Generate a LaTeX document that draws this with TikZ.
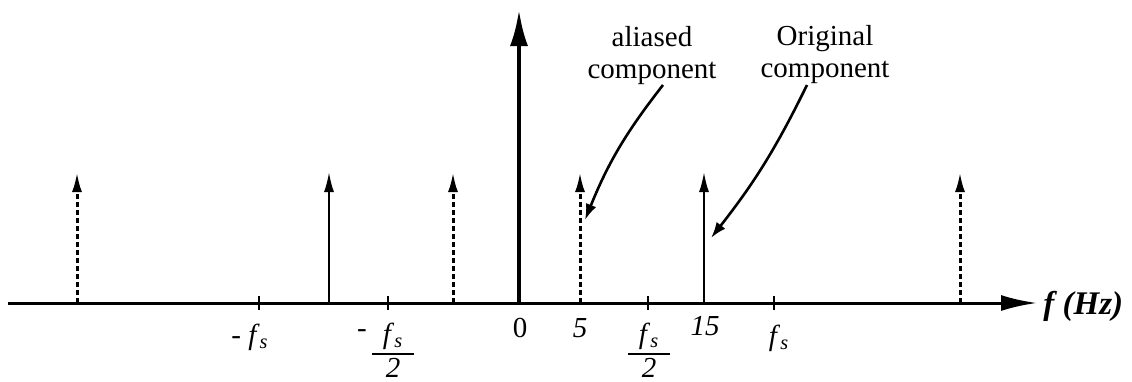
\documentclass[tikz,border=0pt]{standalone}
\usepackage{fontspec}
\setmainfont{Liberation Serif}
\usepackage{tikz}
\usetikzlibrary{arrows.meta}
\newcommand{\fsym}{\textit{f}\textsubscript{\textit{s}}}
\newcommand{\halffs}{\makebox[21pt]{\fsym}\llap{\smash{\rule[-6pt]{21pt}{1pt}}}\\[1pt]\textit{2}}
\tikzset{
	axisline/.style ={line width=1.5pt, -{Latex[length=18pt, width=8pt]}},
	dcline/.style   ={line width=2pt, -{Latex[length=18pt, width=9pt]}},
	compline/.style ={line width=1pt, -{Latex[length=10pt, width=5pt]}},
	aliasline/.style={compline, line width=1.5pt, dash pattern=on 2.5pt off 1.5pt},
	leader/.style   ={line width=1.3pt, -{Latex[length=8pt, width=5.5pt]}},
	tickmark/.style ={line width=1pt},
	lbl/.style      ={inner sep=0pt},
	fraclbl/.style  ={lbl, align=center},
}
\begin{document}
\begin{tikzpicture}[x=0.5pt, y=-0.5pt, font=\fontsize{14.5}{16}\selectfont]
	\useasboundingbox (0,0) rectangle (1132,381);
	% frequency axis
	\coordinate (ax0) at (8,303);
	\coordinate (ax1) at (1037,303);
	\draw[axisline] (ax0) -- (ax1);
	\node[lbl, anchor=west, font=\fontsize{16.5}{18}\selectfont] (flab) at (1043,306) {\textbf{\textit{f (Hz)}}};
	% ticks at -fs, -fs/2, fs/2, fs
	\foreach \x in {259,388,648,774}
		\draw[tickmark] (\x,296) -- (\x,310);
	% spectral lines (solid = original, dashed = images)
	\foreach \x/\s in {77/aliasline, 329/compline, 453/aliasline, 580/aliasline, 704/compline, 960/aliasline} {
		\coordinate (b\x) at (\x,303);
		\coordinate (t\x) at (\x,172);
		\draw[\s] (b\x) -- (t\x);
	}
	% dc line
	\coordinate (b519) at (519,303);
	\coordinate (t519) at (519,10);
	\draw[dcline] (b519) -- (t519);
	% axis labels
	\node[lbl] (lmfs) at (250,337) {- \fsym};
	\node[lbl] (lmdash) at (362,334) {-};
	\node[fraclbl] (lmhalf) at (393,350) {\halffs};
	\node[lbl] (lzero) at (520,328) {0};
	\node[lbl] (lfive) at (580,328) {\textit{5}};
	\node[fraclbl] (lhalf) at (649,350) {\halffs};
	\node[lbl] (lfifteen) at (705,326) {\textit{15}};
	\node[lbl] (lfs) at (779,338) {\fsym};
	% annotations
	\node[lbl, align=center] (aliaslab) at (652,56) {aliased\\component};
	\node[lbl, align=center] (origlab) at (825,55) {Original\\component};
	\coordinate (aliasfrom) at (663,85);
	\coordinate (aliasto) at (585,220);
	\coordinate (origfrom) at (807,85);
	\coordinate (origto) at (711,238);
	\draw[leader] (aliasfrom) to[bend right=8] (aliasto);
	\draw[leader] (origfrom) to[bend left=6] (origto);
\end{tikzpicture}
\end{document}
